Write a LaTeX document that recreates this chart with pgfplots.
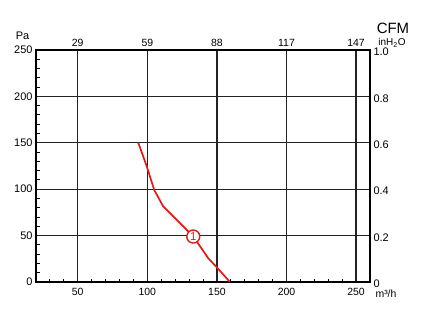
\documentclass[border=0pt]{standalone}
\usepackage{fontspec}
\setmainfont{Liberation Sans}
\usepackage{pgfplots}
\pgfplotsset{compat=1.18}
\definecolor{curvered}{RGB}{225,25,25}
\definecolor{gridc}{RGB}{35,35,35}
\begin{document}
\begin{tikzpicture}
\path[use as bounding box] (-36bp,-30bp) rectangle (385bp,282bp);
\begin{axis}[
  at={(0,0)}, anchor=south west,
  scale only axis, width=334bp, height=232bp,
  xmin=20, xmax=260, ymin=0, ymax=250,
  xtick={50,100,150,200,250},
  ytick={0,50,100,150,200,250},
  minor xtick={30,40,60,70,80,90,110,120,130,140,160,170,180,190,210,220,230,240},
  minor ytick={10,20,30,40,60,70,80,90,110,120,130,140,160,170,180,190,210,220,230,240},
  xtick pos=left, ytick pos=left,
  tick align=inside,
  major tick length=0pt, minor tick length=3.5bp,
  grid=major,
  major grid style={gridc, line width=1.2bp},
  axis line style={black, line width=1.5bp},
  minor tick style={black, line width=1bp},
  tick label style={font=\fontsize{11}{13}\selectfont},
  xticklabel style={yshift=-3bp, font=\fontsize{10.5}{12}\selectfont},
  /pgf/number format/assume math mode=true,
  clip=false,
]
\addplot[curvered, line width=1.7bp] coordinates {(93.5,150)(99.5,125)(105,99)(111.4,81.5)(125.8,60)(133,49)(143.8,25.6)(149.8,16)(159.4,0)};
\addplot[only marks, mark=*, mark size=6.5bp,
  mark options={draw=curvered, fill=white, line width=1.4bp},
  nodes near coords={1},
  every node near coord/.append style={anchor=center, text=curvered, font=\fontsize{11.5}{12}\selectfont}]
  coordinates {(133,49)};
\end{axis}
\begin{axis}[
  at={(0,0)}, anchor=south west,
  scale only axis, width=334bp, height=232bp,
  xmin=20, xmax=260, ymin=0, ymax=1,
  axis x line*=top, axis y line*=right,
  axis line style={draw=none},
  xtick={50,100,150,200,250}, xticklabels={29,59,88,117,147},
  ytick={0,0.2,0.4,0.6,0.8,1.0}, yticklabels={0,0.2,0.4,0.6,0.8,1.0},
  major tick length=0pt,
  tick label style={font=\fontsize{11}{13}\selectfont},
  xticklabel style={font=\fontsize{10.5}{12}\selectfont},
  yticklabel style={yshift=-2bp},
  /pgf/number format/assume math mode=true,
]
\end{axis}
\node[font=\fontsize{11}{13}\selectfont] at (-13.5bp,246bp) {Pa};
\node[font=\fontsize{15}{17}\selectfont] at (357bp,254bp) {CFM};
\node[font=\fontsize{10}{12}\selectfont] at (356bp,239bp) {inH\textsubscript{2}O};
\node[font=\fontsize{10.5}{12}\selectfont] at (350bp,-12bp) {m³/h};
\end{tikzpicture}
\end{document}
